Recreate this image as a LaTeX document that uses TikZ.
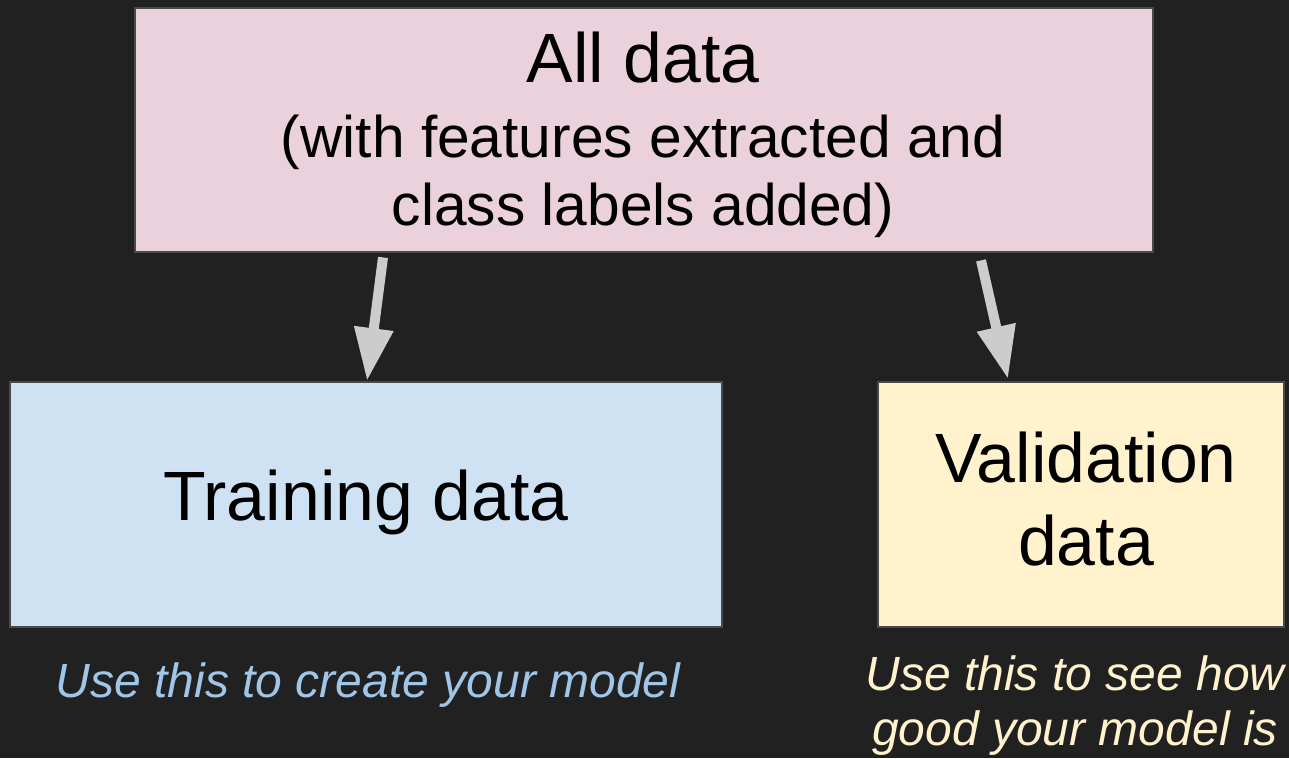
\documentclass[tikz,border=0pt]{standalone}
\usepackage{fontspec}
\setmainfont{Liberation Sans}
\usetikzlibrary{arrows.meta,calc}
\definecolor{bg}{HTML}{212121}
\definecolor{pinkfill}{HTML}{EAD1DC}
\definecolor{bluefill}{HTML}{CFE2F3}
\definecolor{yellowfill}{HTML}{FFF2CC}
\definecolor{edge}{HTML}{4A4A4A}
\definecolor{arrowgray}{HTML}{CCCCCC}
\definecolor{bluecap}{HTML}{9FC5E8}
\definecolor{yellowcap}{HTML}{FFF2CC}
\tikzset{
  databox/.style={draw=edge, line width=1.5pt, inner sep=0pt, outer sep=0pt},
  flow/.style={draw=arrowgray, line width=10pt, -{Triangle[length=53pt,width=37pt]}},
  bigtxt/.style={anchor=base, text=black, font=\fontsize{69.8}{80}\selectfont, inner sep=0pt},
  midtxt/.style={anchor=base, text=black, font=\fontsize{58.7}{68}\selectfont, inner sep=0pt},
  captxt/.style={anchor=base, font=\fontsize{48}{55}\selectfont\itshape, inner sep=0pt},
}
\begin{document}
\begin{tikzpicture}[x=1pt, y=-1pt]
  % canvas
  \fill[bg] (0,0) rectangle (1289,758);
  \useasboundingbox (0,0) rectangle (1289,758);

  % boxes
  \path[databox, fill=pinkfill] (135,8) rectangle (1153,252);
  \node[minimum width=1018pt, minimum height=244pt, anchor=north west] (all) at (135,8) {};
  \path[databox, fill=bluefill] (10,382) rectangle (722,627);
  \node[minimum width=712pt, minimum height=245pt, anchor=north west] (train) at (10,382) {};
  \path[databox, fill=yellowfill] (878,382) rectangle (1284,627);
  \node[minimum width=406pt, minimum height=245pt, anchor=north west] (valid) at (878,382) {};

  % box texts
  \node[bigtxt] (alltitle) at (643,82) {All data};
  \node[midtxt] (allsub1) at (643,157) {(with features extracted and};
  \node[midtxt] (allsub2) at (643,225) {class labels added)};
  \node[bigtxt] (traintxt) at (366,520) {Training data};
  \node[bigtxt] (validtxt1) at (1086,482) {Validation};
  \node[bigtxt] (validtxt2) at (1086,565) {data};

  % captions
  \node[captxt, text=bluecap] (traincap) at (368,697) {Use this to create your model};
  \node[captxt, text=yellowcap] (validcap1) at (1075,690) {Use this to see how};
  \node[captxt, text=yellowcap] (validcap2) at (1075,745) {good your model is};

  % arrows from the top box down to the two parts
  \coordinate (s1) at ($(all.south west)+(248,5)$);
  \coordinate (e1) at ($(train.north west)+(357,-1)$);
  \coordinate (s2) at ($(all.south west)+(846,8)$);
  \coordinate (e2) at ($(valid.north west)+(130,-3)$);
  \draw[flow] (s1) -- (e1);
  \draw[flow] (s2) -- (e2);
\end{tikzpicture}
\end{document}
